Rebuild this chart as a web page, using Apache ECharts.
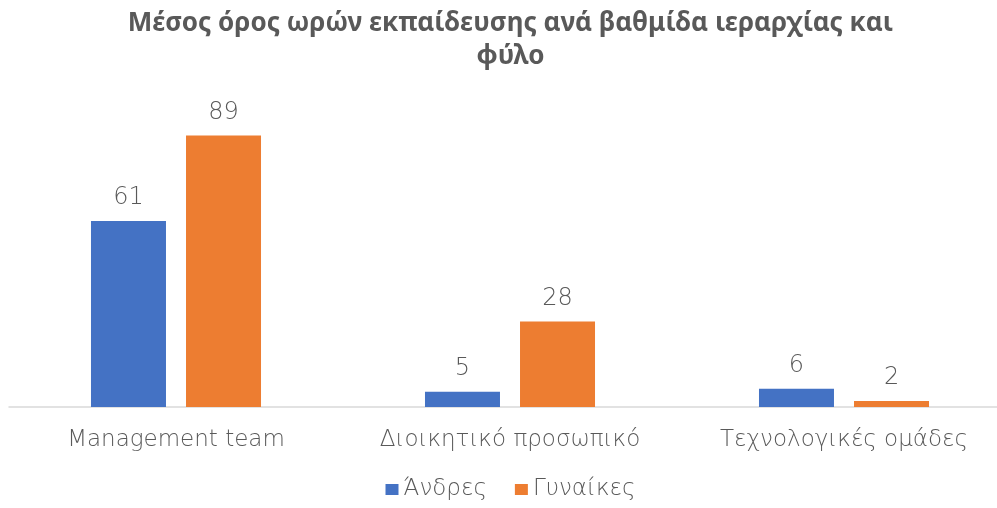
<!DOCTYPE html>
<html>
<head>
<meta charset="utf-8">
<script src="https://cdn.jsdelivr.net/npm/echarts@6/dist/echarts.min.js"></script>
<style>
  html, body { margin: 0; padding: 0; background: #fff; overflow: hidden; }
  #chart { width: 1021px; height: 508px; }
</style>
</head>
<body>
<div id="chart"></div>
<script>
// Hierarchy levels and average training hours per gender
const categories = ['Management team', 'Διοικητικό προσωπικό', 'Τεχνολογικές ομάδες'];
const seriesNames = ['Άνδρες', 'Γυναίκες'];
const menHours = [61, 5, 6];
const womenHours = [89, 28, 2];
const titleText = 'Μέσος όρος ωρών εκπαίδευσης ανά βαθμίδα ιεραρχίας και\nφύλο';

const TITLE_FONT = '"Noto Sans", "DejaVu Sans", sans-serif';
const FONT = '"DejaVu Sans", "Noto Sans", sans-serif';
const TEXT_COLOR = '#595959';

// the canvas is a little wider than the window; its right edge is cut off
const chart = echarts.init(document.getElementById('chart'), null, { renderer: 'canvas' });

const labelStyle = {
  show: true,
  position: 'top',
  distance: 11,
  color: TEXT_COLOR,
  fontFamily: FONT,
  fontSize: 24,
  fontWeight: 200
};

chart.setOption({
  animation: false,
  backgroundColor: '#ffffff',
  title: {
    text: titleText,
    left: 'center',
    top: 0,
    padding: [7, 5],
    textStyle: {
      fontFamily: TITLE_FONT,
      fontSize: 26,
      fontWeight: 'bold',
      color: TEXT_COLOR,
      lineHeight: 33
    }
  },
  legend: {
    data: seriesNames,
    bottom: 2,
    left: 'center',
    icon: 'rect',
    itemWidth: 13,
    itemHeight: 11,
    itemGap: 28,
    textStyle: { fontFamily: FONT, fontSize: 23, fontWeight: 200, color: TEXT_COLOR }
  },
  grid: { left: 9, right: 10, top: 102, height: 305, containLabel: false },
  xAxis: {
    type: 'category',
    data: categories,
    axisLine: { show: true, lineStyle: { color: '#d9d9d9', width: 1.5 } },
    axisTick: { show: false },
    axisLabel: {
      interval: 0,
      color: TEXT_COLOR,
      fontFamily: FONT,
      fontSize: 23,
      fontWeight: 200,
      margin: 22
    }
  },
  yAxis: {
    type: 'value',
    min: 0,
    max: 100,
    show: false,
    splitLine: { show: false }
  },
  series: [
    {
      name: seriesNames[0],
      type: 'bar',
      data: menHours,
      barWidth: 75,
      barGap: '26.7%',
      itemStyle: { color: '#4472C4' },
      label: labelStyle
    },
    {
      name: seriesNames[1],
      type: 'bar',
      data: womenHours,
      barWidth: 75,
      barGap: '26.7%',
      itemStyle: { color: '#ED7D31' },
      label: labelStyle
    }
  ]
});
</script>
</body>
</html>
